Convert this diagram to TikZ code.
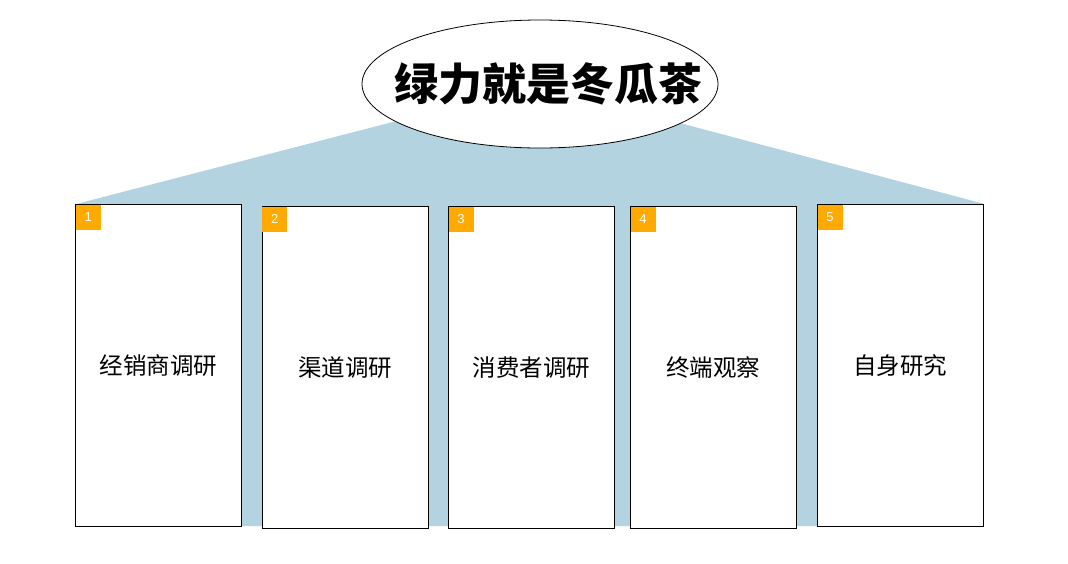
\documentclass[tikz,border=0pt]{standalone}
\usepackage{fontspec}
\setmainfont{Liberation Sans}
\newfontfamily\cjk{Noto Sans CJK SC}
\usepackage{tikz}
\usetikzlibrary{shapes.geometric,backgrounds}
\definecolor{pillarblue}{RGB}{180,211,224}
\definecolor{badgeorange}{RGB}{255,170,0}
\tikzset{
  headline/.style={ellipse, draw=black, fill=white, line width=0.8pt, inner sep=0pt, minimum width=356, minimum height=128},
  headtext/.style={font=\cjk\bfseries\fontsize{44}{48}\selectfont, inner sep=0pt},
  pillar/.style={rectangle, draw=black, fill=white, line width=1pt, minimum width=166, minimum height=322, inner sep=0pt, font=\cjk\fontsize{23.5}{26}\selectfont},
  badge/.style={rectangle, fill=badgeorange, minimum size=25, inner sep=0pt, anchor=north west, text=white, font=\fontsize{13}{15}\selectfont},
}

\begin{document}
\begin{tikzpicture}[x=1pt,y=-1pt]
  \useasboundingbox (0,0) rectangle (1068,563);
  % research pillars
  \node[pillar] (b1) at (158.5,365.8) {经销商调研};
  \node[pillar] (b2) at (345.0,367.3) {渠道调研};
  \node[pillar] (b3) at (531.3,367.3) {\raisebox{-7pt}{消费者调研}};
  \node[pillar] (b4) at (713.3,367.3) {终端观察};
  \node[pillar] (b5) at (900.3,365.3) {自身研究};
  \node[headline] (title) at (540,84) {};
  \node[headtext] (titletext) at (548,84) {绿力就是冬瓜茶};
  \foreach \i in {1,...,5}{\node[badge] (n\i) at ([xshift=0.5pt,yshift=-0.5pt]b\i.north west) {\i};}
  % roof and backing behind the pillars
  \begin{scope}[on background layer]
    \fill[pillarblue] (b1.north west) -- (408,118) -- (661,118) -- (b5.north east) -- (b5.north east |- 0,526) -- (b1.north west |- 0,526) -- cycle;
  \end{scope}
\end{tikzpicture}
\end{document}
